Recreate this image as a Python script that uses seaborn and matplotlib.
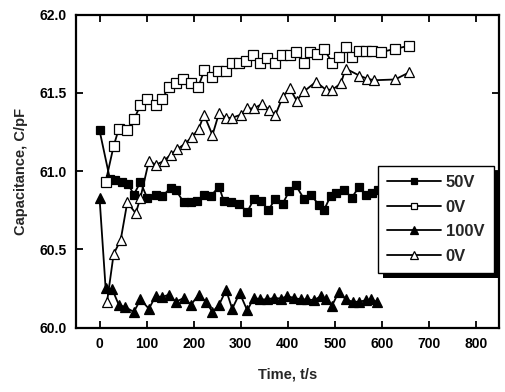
import numpy as np
import pandas as pd
import matplotlib
matplotlib.use("Agg")
import matplotlib.pyplot as plt
from matplotlib.patches import Rectangle
import seaborn as sns

# data
t_50v = [0, 22, 33, 47, 60, 73, 87, 101, 119, 133, 151, 162, 179, 194, 208, 222, 236,
         254, 264, 279, 296, 314, 328, 343, 359, 373, 389, 403, 417, 435, 449, 467, 477,
         491, 502, 520, 536, 552, 566, 580, 592]
c_50v = [61.26, 60.95, 60.94, 60.93, 60.92, 60.85, 60.93, 60.83, 60.85, 60.84, 60.89,
         60.88, 60.80, 60.80, 60.81, 60.85, 60.84, 60.90, 60.81, 60.80, 60.79, 60.74,
         60.82, 60.81, 60.75, 60.82, 60.79, 60.87, 60.91, 60.82, 60.85, 60.78, 60.75,
         60.84, 60.86, 60.88, 60.83, 60.90, 60.85, 60.86, 60.88]

t_0v_a = [13, 30, 41, 59, 73, 87, 101, 119, 133, 148, 162, 177, 194, 210, 223, 238, 252,
          268, 282, 296, 312, 327, 341, 357, 373, 387, 404, 418, 435, 447, 463, 477, 495,
          509, 523, 537, 552, 566, 580, 598, 628, 657]
c_0v_a = [60.93, 61.16, 61.27, 61.26, 61.33, 61.42, 61.46, 61.42, 61.46, 61.54, 61.56,
          61.59, 61.56, 61.54, 61.645, 61.60, 61.64, 61.64, 61.69, 61.69, 61.70, 61.74,
          61.69, 61.72, 61.69, 61.74, 61.74, 61.76, 61.69, 61.76, 61.75, 61.78, 61.69,
          61.73, 61.79, 61.73, 61.77, 61.77, 61.77, 61.76, 61.78, 61.80]

t_100v = [0, 13, 27, 41, 55, 73, 87, 105, 119, 133, 147, 162, 180, 194, 211, 226, 240,
          254, 269, 282, 298, 314, 328, 342, 357, 371, 385, 399, 413, 428, 442, 456, 470,
          481, 494, 509, 523, 538, 552, 566, 577, 589]
c_100v = [60.83, 60.25, 60.245, 60.145, 60.13, 60.10, 60.18, 60.12, 60.20, 60.195, 60.21,
          60.165, 60.19, 60.145, 60.21, 60.165, 60.10, 60.145, 60.24, 60.12, 60.22, 60.11,
          60.19, 60.18, 60.18, 60.19, 60.185, 60.20, 60.19, 60.18, 60.18, 60.175, 60.20,
          60.18, 60.14, 60.23, 60.18, 60.165, 60.165, 60.175, 60.18, 60.165]

t_0v_b = [16, 30, 45, 59, 77, 87, 105, 120, 137, 151, 165, 182, 197, 211, 222, 240, 254,
          268, 282, 300, 314, 328, 346, 360, 374, 389, 404, 419, 435, 460, 481, 495, 513,
          523, 552, 569, 584, 628, 658]
c_0v_b = [60.165, 60.47, 60.56, 60.80, 60.73, 60.83, 61.065, 61.04, 61.065, 61.105,
          61.14, 61.175, 61.22, 61.27, 61.36, 61.23, 61.37, 61.34, 61.34, 61.36, 61.40,
          61.40, 61.43, 61.39, 61.36, 61.47, 61.53, 61.45, 61.51, 61.57, 61.52, 61.52,
          61.56, 61.655, 61.61, 61.59, 61.58, 61.585, 61.63]

x_ticks = [0, 100, 200, 300, 400, 500, 600, 700, 800]
y_ticks = [60.0, 60.5, 61.0, 61.5, 62.0]

sns.set_style("ticks")
plt.rcParams["font.family"] = ["Liberation Sans", "DejaVu Sans"]
plt.rcParams["font.weight"] = "bold"

fig = plt.figure(figsize=(5.05, 3.92), dpi=100)
ax = fig.add_axes([0.1505, 0.1643, 0.8385, 0.7987])

series = [
    (t_50v, c_50v, "50V", "s", "black", 6),
    (t_0v_a, c_0v_a, "0V", "s", "white", 6.5),
    (t_100v, c_100v, "100V", "^", "black", 7),
    (t_0v_b, c_0v_b, "0V", "^", "white", 7.5),
]
for t, c, lab, mk, fc, ms in series:
    sns.lineplot(x=t, y=c, ax=ax, color="black", linewidth=1.3, marker=mk,
                 markersize=ms, markerfacecolor=fc, markeredgecolor="black",
                 markeredgewidth=0.9, label=lab, sort=False, estimator=None)

ax.set_xlim(-50, 850)
ax.set_ylim(60.0, 62.0)
ax.set_xticks(x_ticks)
ax.set_yticks(y_ticks)
ax.set_yticklabels([f"{v:.1f}" for v in y_ticks])
ax.tick_params(direction="in", top=True, right=True, length=5, width=1.3,
               labelsize=10, pad=7, colors="black")
for sp in ax.spines.values():
    sp.set_linewidth(1.6)
    sp.set_color("black")

ax.set_xlabel("Time, t/s", fontsize=10.5, fontweight="bold", labelpad=12)
ax.set_ylabel("Capacitance, C/pF", fontsize=10.5, fontweight="bold", labelpad=8)

leg = ax.legend(loc="upper right", bbox_to_anchor=(0.986, 0.517), borderaxespad=0,
                frameon=True, fancybox=False, edgecolor="black", framealpha=1,
                fontsize=12, handlelength=3.2, handletextpad=0.3, labelspacing=0.58,
                markerscale=0.75, borderpad=0.55)
leg.get_frame().set_linewidth(1.0)
for txt in leg.get_texts():
    txt.set_fontweight("bold")

# solid drop shadow behind the legend box
fig.canvas.draw()
bb = leg.get_window_extent()
ax.add_patch(Rectangle((bb.x0 + 5, bb.y0 - 5), bb.width, bb.height, transform=None,
                       facecolor="black", edgecolor="none", zorder=4.9, clip_on=False))

fig.savefig("out.png", dpi=100)
